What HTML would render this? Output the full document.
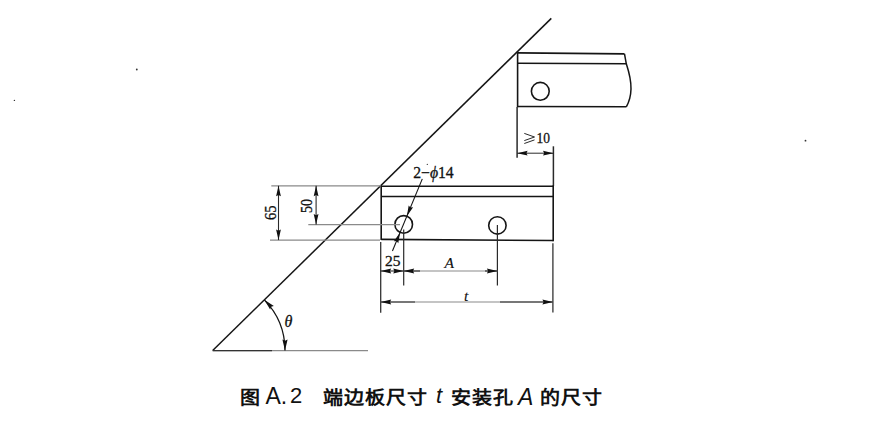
<!DOCTYPE html>
<html lang="zh-CN"><head><meta charset="utf-8"><style>
html,body{margin:0;padding:0;background:#fff;width:875px;height:428px;overflow:hidden}
svg{position:absolute;left:0;top:0}
.cap{position:absolute;left:0;top:0;font-family:"Liberation Sans",sans-serif;line-height:1;color:#111;white-space:nowrap}
.cj{font-size:20px;font-weight:700;letter-spacing:1px;transform:scaleY(0.93);transform-origin:0 18px}
.lt{font-size:22px;font-weight:400}
</style></head><body>
<svg width="875" height="428" viewBox="0 0 875 428">
<line x1="212.70" y1="350.50" x2="551.30" y2="18.40" stroke="#151515" stroke-width="1.5"/>
<line x1="212.70" y1="350.70" x2="368.00" y2="350.70" stroke="#8a8a8a" stroke-width="1.3"/>
<line x1="212.70" y1="350.60" x2="272.00" y2="350.60" stroke="#333" stroke-width="1.2"/>
<path d="M264.29,299.85 A72.3,72.3 0 0 1 285.00,350.50" fill="none" stroke="#151515" stroke-width="1.3"/>
<polygon points="264.29,299.85 273.86,305.88 271.16,306.84 270.14,309.52" fill="#111"/>
<polygon points="285.00,350.50 282.40,339.50 285.00,340.70 287.60,339.50" fill="#111"/>
<text x="284.5" y="326.5" font-family="Liberation Serif" font-size="16" fill="#111" stroke="#111" stroke-width="0.3" font-style="italic" >θ</text>
<line x1="517.60" y1="52.90" x2="624.50" y2="53.90" stroke="#151515" stroke-width="1.6"/>
<line x1="517.60" y1="63.20" x2="626.30" y2="63.80" stroke="#151515" stroke-width="1.6"/>
<line x1="517.60" y1="106.50" x2="626.30" y2="106.80" stroke="#151515" stroke-width="1.6"/>
<line x1="517.60" y1="52.20" x2="517.60" y2="107.20" stroke="#151515" stroke-width="1.6"/>
<path d="M624.5,53.9 L626.3,63.8 C629,72 631.2,80 631,89 C630.8,97 628.5,103 626.3,106.8" fill="none" stroke="#151515" stroke-width="1.5"/>
<circle cx="540.3" cy="91.3" r="8.9" fill="none" stroke="#151515" stroke-width="1.6"/>
<line x1="517.10" y1="107.00" x2="517.10" y2="157.70" stroke="#2a2a2a" stroke-width="1.5"/>
<line x1="553.40" y1="146.30" x2="553.40" y2="186.20" stroke="#2a2a2a" stroke-width="1.5"/>
<line x1="517.10" y1="153.20" x2="553.50" y2="153.20" stroke="#2a2a2a" stroke-width="1.0"/>
<polygon points="517.10,153.20 527.60,150.80 526.40,153.20 527.60,155.60" fill="#111"/>
<polygon points="553.50,153.20 543.00,155.60 544.20,153.20 543.00,150.80" fill="#111"/>
<path d="M524.3,133.4 L534.5,137.0 L524.3,140.6 M524.3,143.5 L534.5,139.9" fill="none" stroke="#111" stroke-width="0.9"/>
<text x="536.5" y="143.2" font-family="Liberation Serif" font-size="15.5" fill="#111" stroke="#111" stroke-width="0.3"  textLength="13.5" lengthAdjust="spacingAndGlyphs">10</text>
<line x1="381.20" y1="186.30" x2="553.40" y2="186.30" stroke="#151515" stroke-width="1.6"/>
<line x1="381.20" y1="196.50" x2="553.40" y2="196.50" stroke="#151515" stroke-width="1.6"/>
<line x1="381.20" y1="239.40" x2="553.40" y2="240.50" stroke="#151515" stroke-width="1.6"/>
<line x1="381.20" y1="185.60" x2="381.20" y2="240.10" stroke="#151515" stroke-width="1.6"/>
<line x1="553.20" y1="185.60" x2="553.20" y2="241.20" stroke="#151515" stroke-width="1.6"/>
<circle cx="403.7" cy="224.4" r="8.8" fill="none" stroke="#151515" stroke-width="1.6"/>
<circle cx="497.4" cy="225.4" r="8.7" fill="none" stroke="#151515" stroke-width="1.6"/>
<line x1="271.30" y1="185.80" x2="381.00" y2="185.80" stroke="#8a8a8a" stroke-width="1.2"/>
<line x1="270.00" y1="240.05" x2="380.00" y2="240.05" stroke="#8a8a8a" stroke-width="1.2"/>
<line x1="308.30" y1="224.60" x2="400.00" y2="224.60" stroke="#8a8a8a" stroke-width="1.2"/>
<line x1="278.50" y1="185.80" x2="278.50" y2="240.05" stroke="#2a2a2a" stroke-width="1.1"/>
<polygon points="278.50,185.80 280.90,196.30 278.50,195.10 276.10,196.30" fill="#111"/>
<polygon points="278.50,240.05 276.10,229.55 278.50,230.75 280.90,229.55" fill="#111"/>
<text x="0" y="0" font-family="Liberation Serif" font-size="16" fill="#111" stroke="#111" stroke-width="0.3"  textLength="14.5" lengthAdjust="spacingAndGlyphs" transform="translate(276.3,220) rotate(-90)">65</text>
<line x1="316.10" y1="185.80" x2="316.10" y2="224.60" stroke="#2a2a2a" stroke-width="1.1"/>
<polygon points="316.10,185.80 318.50,196.30 316.10,195.10 313.70,196.30" fill="#111"/>
<polygon points="316.10,224.60 313.70,214.10 316.10,215.30 318.50,214.10" fill="#111"/>
<text x="0" y="0" font-family="Liberation Serif" font-size="16" fill="#111" stroke="#111" stroke-width="0.3"  textLength="14" lengthAdjust="spacingAndGlyphs" transform="translate(312.0,213.0) rotate(-90)">50</text>
<line x1="422.30" y1="178.90" x2="392.43" y2="250.97" stroke="#151515" stroke-width="1.1"/>
<polygon points="406.86,216.14 408.67,205.52 410.42,207.55 413.10,207.36" fill="#111"/>
<polygon points="400.08,232.52 398.27,243.13 396.51,241.11 393.84,241.30" fill="#111"/>
<text x="413.2" y="177.8" font-family="Liberation Serif" font-size="16" fill="#111" stroke="#111" stroke-width="0.3"  textLength="40.5" lengthAdjust="spacingAndGlyphs">2−<tspan font-style="italic">ϕ</tspan>14</text>
<line x1="380.70" y1="241.90" x2="380.70" y2="312.80" stroke="#333" stroke-width="1.3"/>
<line x1="403.70" y1="229.50" x2="403.70" y2="285.50" stroke="#2a2a2a" stroke-width="1.2"/>
<line x1="497.40" y1="225.10" x2="497.40" y2="285.50" stroke="#2a2a2a" stroke-width="1.2"/>
<line x1="552.90" y1="243.30" x2="552.90" y2="312.60" stroke="#333" stroke-width="1.3"/>
<line x1="380.70" y1="271.00" x2="403.70" y2="271.00" stroke="#2a2a2a" stroke-width="1.1"/>
<polygon points="380.70,271.00 391.20,268.60 390.00,271.00 391.20,273.40" fill="#111"/>
<polygon points="403.70,271.00 393.20,273.40 394.40,271.00 393.20,268.60" fill="#111"/>
<text x="385" y="266" font-family="Liberation Serif" font-size="15.5" fill="#111" stroke="#111" stroke-width="0.3"  >25</text>
<line x1="403.70" y1="271.00" x2="497.40" y2="271.00" stroke="#8a8a8a" stroke-width="1.2"/>
<line x1="403.70" y1="271.00" x2="420.00" y2="271.00" stroke="#2a2a2a" stroke-width="1.1"/>
<line x1="485.00" y1="271.00" x2="497.40" y2="271.00" stroke="#2a2a2a" stroke-width="1.1"/>
<polygon points="403.70,271.00 414.20,268.60 413.00,271.00 414.20,273.40" fill="#111"/>
<polygon points="497.40,271.00 486.90,273.40 488.10,271.00 486.90,268.60" fill="#111"/>
<text x="444.5" y="267.5" font-family="Liberation Serif" font-size="15.5" fill="#111" stroke="#111" stroke-width="0.12" font-style="italic" >A</text>
<line x1="380.70" y1="302.00" x2="552.90" y2="302.00" stroke="#8a8a8a" stroke-width="1.2"/>
<line x1="380.70" y1="302.00" x2="415.00" y2="302.00" stroke="#2a2a2a" stroke-width="1.1"/>
<line x1="500.00" y1="302.00" x2="552.90" y2="302.00" stroke="#2a2a2a" stroke-width="1.1"/>
<polygon points="380.70,302.00 391.20,299.60 390.00,302.00 391.20,304.40" fill="#111"/>
<polygon points="552.90,302.00 542.40,304.40 543.60,302.00 542.40,299.60" fill="#111"/>
<text x="464" y="300.5" font-family="Liberation Serif" font-size="15.5" fill="#111" stroke="#111" stroke-width="0.12" font-style="italic" >t</text>
<circle cx="136.8" cy="69.5" r="0.9" fill="#333"/>
<circle cx="14.4" cy="100.4" r="0.7" fill="#333"/>
<circle cx="805.5" cy="140.7" r="0.9" fill="#333"/>
<circle cx="427.3" cy="164.4" r="0.6" fill="#333"/>
</svg>
<div class="cap cj" style="left:240px;top:387px">图</div>
<div class="cap lt" style="left:265.5px;top:385px;font-size:23px">A.</div>
<div class="cap lt" style="left:290px;top:385px">2</div>
<div class="cap cj" style="left:323px;top:387px">端边板尺寸</div>
<div class="cap lt" style="left:436px;top:385px"><i>t</i></div>
<div class="cap cj" style="left:451px;top:387px">安装孔</div>
<div class="cap lt" style="left:518px;top:386px;font-size:23px"><i>A</i></div>
<div class="cap cj" style="left:540px;top:387px">的尺寸</div>
</body></html>
